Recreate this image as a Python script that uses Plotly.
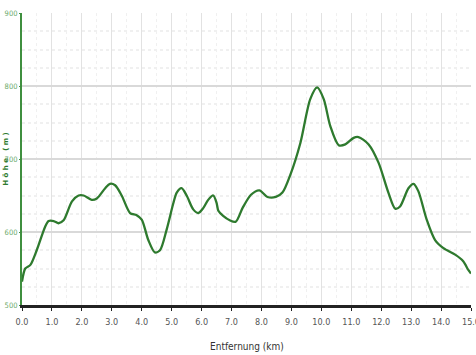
import plotly.graph_objects as go

distance_km = [0.0, 0.11, 0.28, 0.5, 0.78, 0.89, 1.06, 1.22, 1.39, 1.67, 1.89, 2.06, 2.33, 2.5,
               2.78, 2.94, 3.11, 3.33, 3.61, 3.83, 4.0, 4.22, 4.44, 4.61, 4.83, 5.06, 5.17, 5.33,
               5.5, 5.72, 5.89, 6.06, 6.22, 6.39, 6.5, 6.56, 6.72, 6.94, 7.14, 7.37, 7.65, 7.93,
               8.2, 8.48, 8.7, 8.97, 9.3, 9.63, 9.86, 10.08, 10.3, 10.58, 10.8, 11.08, 11.24,
               11.58, 11.91, 12.24, 12.47, 12.63, 12.91, 13.08, 13.24, 13.52, 13.8, 14.08,
               14.47, 14.74, 14.91, 15.0]
elevation_m = [532, 550, 555, 576, 608, 615, 615, 612, 616, 642, 650, 650, 644, 646,
               660, 666, 664, 650, 626, 623, 617, 589, 572, 575, 603, 640, 654, 660,
               650, 631, 626, 633, 644, 650, 640, 629, 622, 616, 614, 633, 651, 657,
               648, 648, 654, 679, 722, 782, 798, 782, 745, 719, 720, 729, 730,
               720, 695, 654, 632, 635, 660, 666, 656, 617, 589, 578,
               569, 560, 548, 543]

x_ticks = [i * 1.0 for i in range(16)]
x_tick_labels = [f"{v:.1f}" for v in x_ticks]
y_ticks = [500, 600, 700, 800, 900]
x_title = "Entfernung (km)"
y_title = "Höhe (m)"

COND = "DejaVu Sans Condensed, Liberation Sans Narrow, Liberation Sans, sans-serif"

fig = go.Figure()
fig.add_trace(go.Scatter(
    x=distance_km, y=elevation_m, mode="lines",
    line=dict(color="#2e7a2e", width=2.3, shape="spline", smoothing=0.8),
    hoverinfo="x+y", showlegend=False,
))

fig.update_layout(
    width=476, height=355,
    margin=dict(l=22, r=5, t=13, b=50),
    paper_bgcolor="white", plot_bgcolor="white",
    font=dict(family=COND, size=9),
    xaxis=dict(
        range=[0, 15], tickvals=x_ticks, ticktext=x_tick_labels,
        ticklabeloverflow="allow", automargin=False,
        showgrid=True, gridcolor="#e2e2e2", gridwidth=1,
        minor=dict(dtick=0.5, showgrid=True, gridcolor="#f0f0f0", griddash="dot"),
        showline=True, linecolor="#222", linewidth=2.5,
        ticks="outside", ticklen=3, tickcolor="#222",
        ticklabelstandoff=3,
        tickfont=dict(color="#555", size=9, family=COND),
        zeroline=False,
    ),
    yaxis=dict(
        range=[500, 900], tickvals=y_ticks,
        ticklabeloverflow="allow", automargin=False,
        showgrid=True, gridcolor="#d9d9d9", gridwidth=2,
        minor=dict(dtick=25, showgrid=True, gridcolor="#f0f0f0", griddash="dot"),
        showline=True, linecolor="#3f8f3f", linewidth=2,
        ticks="outside", ticklen=1, tickcolor="#3f8f3f",
        ticklabelstandoff=0,
        tickfont=dict(color="#6aaa6a", size=7.5, family=COND),
        zeroline=False,
    ),
    annotations=[
        dict(text=x_title, xref="paper", yref="paper", x=0.5, y=-0.115,
             xanchor="center", yanchor="top", showarrow=False,
             font=dict(color="#333", size=10, family=COND)),
        dict(text="<b>" + " ".join(y_title) + "</b>", xref="paper", yref="paper",
             x=-0.036, y=0.5, xanchor="center", yanchor="middle", showarrow=False,
             textangle=-90, font=dict(color="#2e7a2e", size=7, family="DejaVu Sans, sans-serif")),
    ],
)

fig.write_html("out.html")
